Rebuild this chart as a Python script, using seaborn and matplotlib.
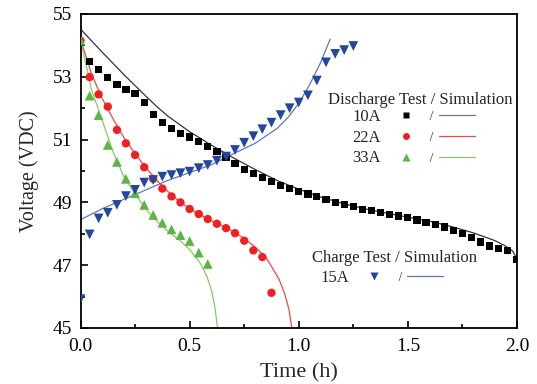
import numpy as np
import pandas as pd
import seaborn as sns
import matplotlib
matplotlib.use("Agg")
import matplotlib.pyplot as plt
from matplotlib.lines import Line2D
from matplotlib.legend_handler import HandlerTuple
from matplotlib.ticker import MultipleLocator

# ---------------- data ----------------
time_test = [0.000, 0.042, 0.083, 0.125, 0.167, 0.208, 0.250, 0.292, 0.333, 0.375,
             0.417, 0.458, 0.500, 0.542, 0.583, 0.625, 0.667, 0.708, 0.750, 0.792,
             0.833, 0.875, 0.917, 0.958, 1.000, 1.042, 1.083, 1.125, 1.167, 1.208,
             1.250, 1.292, 1.333, 1.375, 1.417, 1.458, 1.500, 1.542, 1.583, 1.625,
             1.667, 1.708, 1.750, 1.792, 1.833, 1.875, 1.917, 1.958, 2.000]

v_10a = [54.10, 53.48, 53.24, 52.98, 52.76, 52.60, 52.46, 52.18, 51.80, 51.54,
         51.36, 51.20, 51.08, 50.94, 50.78, 50.61, 50.42, 50.24, 50.06, 49.92,
         49.79, 49.66, 49.54, 49.44, 49.34, 49.27, 49.20, 49.08, 49.00, 48.94,
         48.86, 48.78, 48.73, 48.67, 48.62, 48.57, 48.51, 48.44, 48.37, 48.30,
         48.22, 48.11, 48.02, 47.89, 47.74, 47.61, 47.54, 47.48, 47.19]

v_22a = [54.15, 52.99, 52.44, 52.05, 51.31, 50.88, 50.51, 50.12, 49.75, 49.44,
         49.19, 49.00, 48.79, 48.63, 48.47, 48.32, 48.18, 48.02, 47.78, 47.47,
         47.26, 46.12]

v_33a = [54.15, 52.40, 51.78, 50.83, 50.29, 49.75, 49.29, 48.92, 48.60, 48.35,
         48.14, 47.96, 47.77, 47.40, 47.04]

v_15a = [45.92, 47.98, 48.49, 48.67, 48.92, 49.20, 49.40, 49.63, 49.71, 49.82,
         49.87, 49.93, 49.98, 50.09, 50.19, 50.33, 50.46, 50.67, 50.90, 51.11,
         51.33, 51.54, 51.78, 52.00, 52.18, 52.41, 52.88, 53.46, 53.73, 53.85,
         53.98]

# simulation curves
sim10_t = [0.0, 0.05, 0.1, 0.15, 0.2, 0.25, 0.3, 0.35, 0.4, 0.5, 0.6, 0.7, 0.8,
           0.9, 1.0, 1.1, 1.2, 1.3, 1.4, 1.5, 1.6, 1.7, 1.8, 1.9, 1.95, 1.98, 2.0]
sim10_v = [54.52, 54.15, 53.78, 53.42, 53.06, 52.72, 52.38, 52.05, 51.75, 51.25,
           50.82, 50.42, 50.05, 49.70, 49.42, 49.17, 48.97, 48.80, 48.66, 48.53,
           48.40, 48.23, 48.03, 47.78, 47.60, 47.45, 47.20]

sim22_t = [0.0, 0.05, 0.1, 0.15, 0.2, 0.25, 0.3, 0.35, 0.4, 0.45, 0.5, 0.55, 0.6,
           0.65, 0.7, 0.75, 0.8, 0.85, 0.88, 0.91, 0.935, 0.955, 0.968]
sim22_v = [54.20, 53.10, 52.30, 51.65, 51.05, 50.55, 50.10, 49.70, 49.35, 49.05,
           48.80, 48.60, 48.42, 48.25, 48.07, 47.85, 47.58, 47.25, 46.90, 46.55,
           46.10, 45.60, 45.00]

sim33_t = [0.0, 0.05, 0.1, 0.15, 0.2, 0.25, 0.3, 0.35, 0.4, 0.45, 0.5, 0.55, 0.58,
           0.6, 0.615, 0.628]
sim33_v = [54.20, 52.60, 51.60, 50.60, 49.80, 49.27, 48.78, 48.40, 48.08, 47.82,
           47.50, 47.05, 46.63, 46.20, 45.70, 45.00]

sim15_t = [0.0, 0.1, 0.2, 0.3, 0.4, 0.5, 0.6, 0.7, 0.8, 0.9, 0.95, 1.0, 1.05,
           1.1, 1.144]
sim15_v = [48.45, 48.80, 49.10, 49.40, 49.70, 49.95, 50.20, 50.55, 50.88, 51.35,
           51.70, 52.15, 52.75, 53.45, 54.20]

discharge_labels = ["10A", "22A", "33A"]
charge_labels = ["15A"]

# ---------------- style ----------------
sns.set_theme(style="ticks")
plt.rcParams["font.family"] = ["Liberation Serif", "DejaVu Serif"]
plt.rcParams["mathtext.fontset"] = "custom"
plt.rcParams["mathtext.rm"] = "Liberation Serif"
plt.rcParams["mathtext.it"] = "Liberation Serif"

fig = plt.figure(figsize=(5.37, 3.84), dpi=100)
ax = fig.add_axes([80.5 / 537, 1 - 328 / 384, (517 - 80.5) / 537, (328 - 14) / 384])

c_black, c_red, c_green, c_blue = "#000000", "#f02020", "#5cb544", "#23479e"
l_black, l_red, l_green, l_blue = "#333333", "#f04848", "#86cc66", "#5b78c4"

series = [
    (time_test[:len(v_10a)], v_10a, sim10_t, sim10_v, "s", 5.2, c_black, l_black),
    (time_test[:len(v_22a)], v_22a, sim22_t, sim22_v, "o", 6.0, c_red, l_red),
    (time_test[:len(v_33a)], v_33a, sim33_t, sim33_v, "^", 7.0, c_green, l_green),
    (time_test[:len(v_15a)], v_15a, sim15_t, sim15_v, "v", 7.0, c_blue, l_blue),
]

for tt, vv, st, sv, mk, ms, cm, cl in series:
    sns.lineplot(x=st, y=sv, ax=ax, color=cl, lw=0.9, sort=False, estimator=None)
    sns.scatterplot(x=tt, y=vv, ax=ax, marker=mk, s=ms ** 2, color=cm,
                    edgecolor="none", linewidth=0, zorder=3)

ax.set_xlim(0, 2.0)
ax.set_ylim(45, 55)
ax.xaxis.set_major_locator(MultipleLocator(0.5))
ax.xaxis.set_minor_locator(MultipleLocator(0.25))
ax.yaxis.set_major_locator(MultipleLocator(2))
ax.yaxis.set_minor_locator(MultipleLocator(1))
ax.set_yticks([45, 47, 49, 51, 53, 55])
ax.set_xticks([0.0, 0.5, 1.0, 1.5, 2.0])
ax.set_xticklabels(["0.0", "0.5", "1.0", "1.5", "2.0"])
ax.tick_params(which="both", direction="in", top=False, right=False,
               colors="black", labelsize=14, width=1.2)
ax.tick_params(which="major", length=5)
ax.tick_params(which="minor", length=3)
ax.tick_params(axis="x", which="major", pad=7)
ax.tick_params(axis="y", which="major", pad=6)
for sp in ax.spines.values():
    sp.set_visible(True)
    sp.set_color("black")
    sp.set_linewidth(1.3)

ax.set_xlabel("Time (h)", fontsize=16, labelpad=6)
ax.set_ylabel("Voltage (VDC)", fontsize=14.5, labelpad=10)

# ---------------- legends ----------------
def handle(marker, ms, cm, cl):
    return (Line2D([], [], ls="none", marker=marker, ms=ms, color=cm, mec="none"),
            Line2D([], [], ls="none", marker="$/$", ms=6.5, color="#333333",
                   mec="none"),
            Line2D([], [], color=cl, lw=0.9))

fs_leg = 12
hmap = {tuple: HandlerTuple(ndivide=None, pad=-0.6)}
common = dict(handler_map=hmap, markerfirst=False, frameon=False,
              handlelength=5.2, handletextpad=0.45, borderpad=0.0,
              borderaxespad=0.0, labelspacing=0.28, prop={"size": fs_leg})

ax.text(0.778, 0.726, "Discharge Test / Simulation", transform=ax.transAxes,
        ha="center", va="center", fontsize=fs_leg)
h_dis = [handle("s", 4.5, c_black, "#777777"),
         handle("o", 5.0, c_red, l_red),
         handle("^", 6.0, c_green, l_green)]
leg1 = ax.legend(h_dis, discharge_labels, loc="upper left",
                 bbox_to_anchor=(0.622, 0.697), **common)
ax.add_artist(leg1)

ax.text(0.719, 0.223, "Charge Test / Simulation", transform=ax.transAxes,
        ha="center", va="center", fontsize=fs_leg)
h_ch = [handle("v", 6.0, c_blue, l_blue)]
leg2 = ax.legend(h_ch, charge_labels, loc="upper left",
                 bbox_to_anchor=(0.549, 0.184), **common)

fig.savefig("out.png", dpi=100)
